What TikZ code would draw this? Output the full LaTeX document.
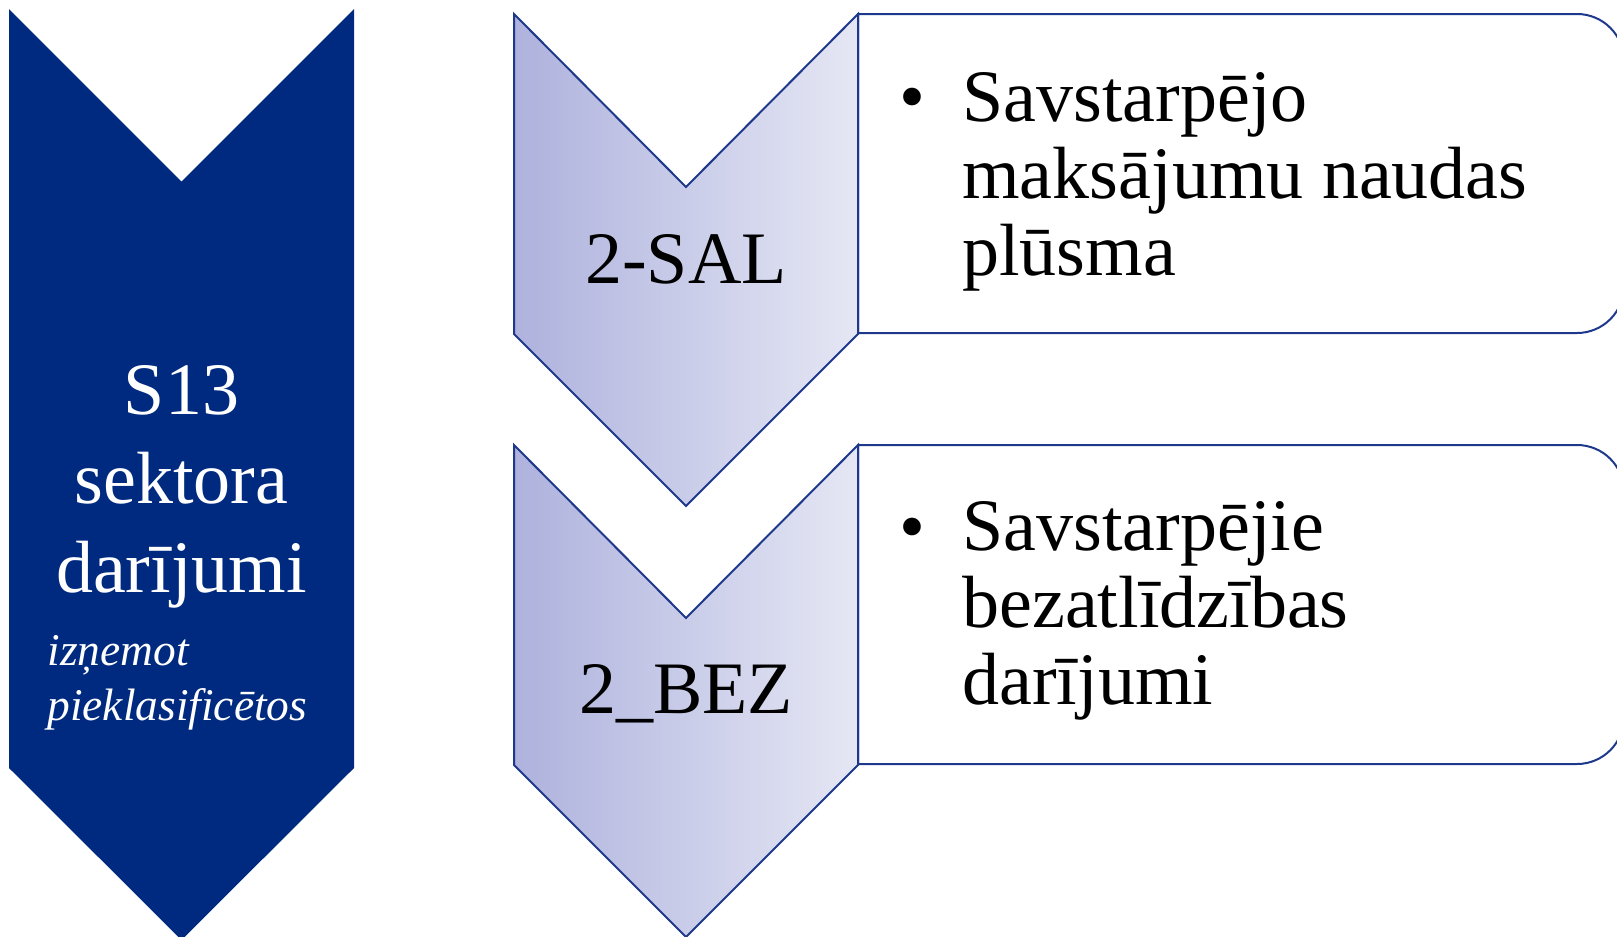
\documentclass[tikz,border=0pt]{standalone}
\usepackage{fontspec}
\setmainfont{Liberation Serif}
\usetikzlibrary{positioning}

\definecolor{sektorblue}{RGB}{0,42,128}
\definecolor{lineblue}{RGB}{30,56,140}
\definecolor{shadeleft}{RGB}{174,178,221}
\definecolor{shaderight}{RGB}{229,231,244}

\tikzset{
	bigtext/.style={font=\fontsize{37}{44.4}\selectfont, inner sep=0pt},
	listtext/.style={font=\fontsize{37}{38.4}\selectfont, inner sep=0pt, align=left},
	chevshade/.style={left color=shadeleft, right color=shaderight, draw=lineblue, line width=1pt},
	listbox/.style={draw=lineblue, fill=white, line width=1pt},
}

\begin{document}
\begin{tikzpicture}[x=0.5pt, y=-0.5pt]
		\def\yn{431}
		\clip (0,0) rectangle (1617,937);
		% S13 chevron
		\fill[sektorblue] (9,9) -- (181.5,181.5) -- (354,9) -- (354,768) -- (181.5,940) -- (9,768) -- cycle;
		\node[bigtext, text=white, align=center, anchor=base] (sektors) at (181.5,592) {S13\\sektora\\darījumi};
		\node[font=\fontsize{22.7}{27.5}\selectfont\itshape, text=white, inner sep=0pt, align=left, anchor=base west] (iznemot) at (47,720) {izņemot\\pieklasificētos};
		% 2-SAL
		\draw[listbox] (858,14) -- (1577,14) arc[start angle=-90, end angle=0, radius=47] -- (1624,286) arc[start angle=0, end angle=90, radius=47] -- (858,333) -- cycle;
		\draw[chevshade] (514,14) -- (686,187) -- (858,14) -- (858,334) -- (686,506) -- (514,334) -- cycle;
		% 2_BEZ
		\draw[listbox] (858,14+\yn) -- (1577,14+\yn) arc[start angle=-90, end angle=0, radius=47] -- (1624,286+\yn) arc[start angle=0, end angle=90, radius=47] -- (858,333+\yn) -- cycle;
		\draw[chevshade] (514,14+\yn) -- (686,187+\yn) -- (858,14+\yn) -- (858,334+\yn) -- (686,506+\yn) -- (514,334+\yn) -- cycle;
		\node[bigtext, anchor=base] (sal) at (686,283) {2-SAL};
		\node[bigtext, anchor=base] (bez) at (686,713) {2\_BEZ};
		\node[bigtext, anchor=base] (salbul) at (912,121) {\textbullet};
		\node[listtext, anchor=base west] (saltxt) at (962,275) {Savstarpējo\\maksājumu naudas\\plūsma};
		\node[bigtext, anchor=base] (bezbul) at (912,551) {\textbullet};
		\node[listtext, anchor=base west] (beztxt) at (962,704) {Savstarpējie\\bezatlīdzības\\darījumi};
	\end{tikzpicture}
\end{document}
